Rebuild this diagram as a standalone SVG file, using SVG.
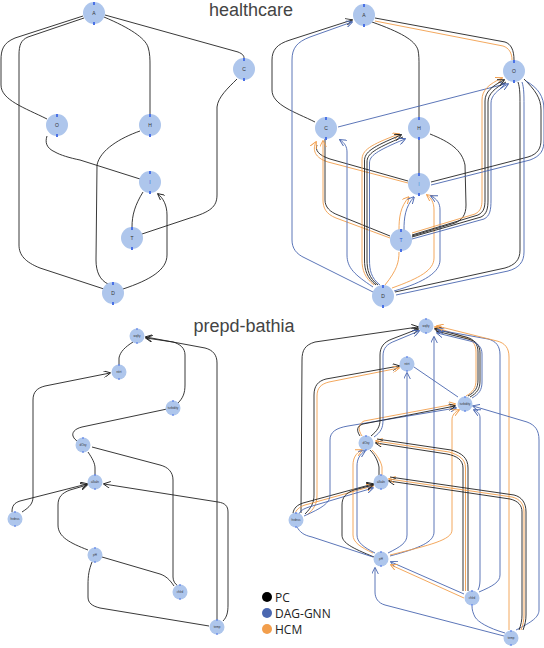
<svg xmlns="http://www.w3.org/2000/svg" width="544" height="648" viewBox="0 0 544 648">
<style>
.pc{fill:none;stroke:#222;stroke-width:0.9}
.dg{fill:none;stroke:#4a67b0;stroke-width:0.9}
.hc{fill:none;stroke:#f29e4c;stroke-width:0.9}
.pcA{marker-end:url(#aPC)}
.dgA{marker-end:url(#aDG)}
.hcA{marker-end:url(#aHC)}
.nd{fill:#aec6ec}
.pt{fill:#4b72e6}
.lb{font-family:"Liberation Sans",Arial,sans-serif;font-size:5px;fill:#333;text-anchor:middle}
.lbs{font-family:"Liberation Sans",Arial,sans-serif;font-size:3px;fill:#333;text-anchor:middle}
.ttl{font-family:"Liberation Sans",Arial,sans-serif;font-size:18px;fill:#444;text-anchor:middle}
.lg{font-family:"Open Sans","Liberation Sans",sans-serif;font-size:12px;fill:#222}
</style>
<defs>
<marker id="aPC" viewBox="0 0 10 10" refX="9" refY="5" markerWidth="7" markerHeight="7" markerUnits="userSpaceOnUse" orient="auto"><path d="M0,0 L10,5 L0,10" fill="none" stroke="#222" stroke-width="1.3"/></marker>
<marker id="aDG" viewBox="0 0 10 10" refX="9" refY="5" markerWidth="7" markerHeight="7" markerUnits="userSpaceOnUse" orient="auto"><path d="M0,0 L10,5 L0,10" fill="none" stroke="#4a67b0" stroke-width="1.3"/></marker>
<marker id="aHC" viewBox="0 0 10 10" refX="9" refY="5" markerWidth="7" markerHeight="7" markerUnits="userSpaceOnUse" orient="auto"><path d="M0,0 L10,5 L0,10" fill="none" stroke="#f29e4c" stroke-width="1.3"/></marker>
</defs>
<rect width="544" height="648" fill="#fff"/>
<text class="ttl" x="251" y="16">healthcare</text>
<text class="ttl" x="244" y="332">prepd-bathia</text>

<g id="connectors">
<!-- top-left healthcare PC -->
<path class="pc" d="M83,16 L15,38 C3,43 1,50 1,60 L1,85 C1,100 25,108 47,119"/>
<path class="pc" d="M84,18 L28,37 C21,40 19,45 19,55 L19,245 C19,255 25,262 40,268 L104,289"/>
<path class="pc" d="M104,17 C130,28 145,38 148,47 C150,53 150,60 150,65 L150,114"/>
<path class="pc" d="M105,15 L238,52 C243,54 244,56 244,58"/>
<path class="pc" d="M47,136 C45,142 46,148 55,152 C60,155 70,158 80,160 L140,179"/>
<path class="pc" d="M140,131 C120,138 100,150 97,165 L96,260 C96,272 100,280 108,284"/>
<path class="pc" d="M237,79 C228,88 218,97 217,107 L217,195 C217,207 210,212 190,218 L142,234"/>
<path class="pc" d="M143,192 C135,205 132,215 132,227"/>
<path class="pc pcA" d="M123,289 C150,280 167,270 167,255 L167,215 C167,205 163,198 158,194"/>

<!-- top-right healthcare combined -->
<path class="pc pcA" d="M315,122 C295,112 272,105 272,90 L272,60 C272,50 277,44 290,40 L352,20"/>
<path class="dg dgA" d="M373,292 L305,258 C296,254 292,248 292,240 L292,60 C292,48 297,42 310,37 L352,22"/>
<path class="pc" d="M375,18 L505,42 C511,44 514,50 514,60"/>
<path class="hc" d="M375,21 L503,46 C509,48 512,53 512,60"/>
<path class="pc" d="M372,22 C400,32 415,40 418,50 C419,55 419,60 419,65 L419,117"/>
<path class="dg dgA" d="M338,127 L505,84"/>
<path class="pc" d="M419,139 L419,173"/>
<path class="pc" d="M430,134 C450,142 462,150 465,165 L466,205 C466,215 462,220 455,223 L412,236"/>
<path class="pc" d="M408,181 L330,159 C318,155 315,150 317,145"/>
<path class="hc hcA" d="M408,183 L328,162 C315,158 312,150 316,142"/>
<path class="pc" d="M390,236 L338,215 C330,212 325,207 325,200 L325,139"/>
<path class="hc hcA" d="M390,238 L336,218 C326,214 323,208 323,200 L323,141"/>
<path class="dg dgA" d="M373,287 C355,275 347,268 347,255 L347,152 C347,147 345,143 340,140"/>
<path class="hc hcA" d="M374,285 C365,278 362,270 362,260 L362,160 C362,150 370,145 399,134"/>
<path class="pc pcA" d="M376,285 C367,278 364.5,270 364.5,260 L364.5,161 C364.5,152 372,147 401,135"/>
<path class="pc" d="M378,285 C369,278 367,270 367,260 L367,162 C367,154 374,149 403,137"/>
<path class="dg dgA" d="M380,285 C371,278 369.5,270 369.5,260 L369.5,163 C369.5,156 376,151 405,139"/>
<path class="hc hcA" d="M399,230 C399,218 400,207 409,197"/>
<path class="dg dgA" d="M404,230 C404,218 405,207 414,197"/>
<path class="hc hcA" d="M392,288 C420,278 434,270 434,258 L434,210 C434,202 431,198 427,195"/>
<path class="dg dgA" d="M394,291 C425,282 440,272 440,260 L440,210 C440,203 437,199 431,196"/>
<path class="hc" d="M399,252 C399,262 397,270 385,285"/>
<path class="hc hcA" d="M412,233 L475,214 C481,211 482,206 482,200 L482,100 C482,90 489,84 502,78"/>
<path class="pc pcA" d="M412,235 L478,215 C484,212 485,207 485,200 L485,101 C485,92 492,86 504,80"/>
<path class="pc" d="M412,237 L481,217 C487,214 488,208 488,200 L488,102 C488,94 495,88 506,82"/>
<path class="dg dgA" d="M412,239 L484,219 C490,216 491,210 491,200 L491,103 C491,96 497,90 508,84"/>
<path class="pc" d="M431,182 L528,157 C538,154 541,148 541,140 L541,110 C541,98 535,90 524,79"/>
<path class="dg" d="M431,185 L530,160 C541,156 544,150 544,140 L544,110 C544,96 538,88 526,81"/>
<path class="pc" d="M518,82 C520,88 520,95 520,105 L520,250 C520,260 515,265 505,268 L395,292"/>
<path class="dg" d="M522,82 C524,88 524,95 524,105 L524,252 C524,262 519,268 508,271 L396,295"/>

<!-- bottom-left prepd-bathia PC -->
<path class="pc" d="M133,342 C125,347 120,352 119,358 L119,366"/>
<path class="pc pcA" d="M178,403 C183,398 185,393 185,385 L185,355 C185,348 180,344 173,342 L146,338"/>
<path class="pc pcA" d="M217,620 L217,363 C217,355 213,350 205,348 L146,337"/>
<path class="pc pcA" d="M22,512 C30,507 33,503 33,497 L33,400 C33,392 37,388 45,386 L110,373"/>
<path class="pc" d="M167,409 L82,427 C74,429 72,433 73,436 C74,439 76,440 77,441"/>
<path class="pc" d="M88,452 C92,458 95,463 95,468 L95,475"/>
<path class="pc" d="M92,447 L160,465 C168,467 173,472 173,480 L173,577 C173,581 175,584 178,586"/>
<path class="pc pcA" d="M12,512 C12,506 14,503 20,501 L87,484"/>
<path class="pc pcA" d="M88,550 C70,543 58,537 58,525 L58,505 C58,497 62,493 70,490 L87,485"/>
<path class="pc pcA" d="M223,621 C227,617 228,612 228,605 L228,512 C228,506 225,503 218,502 L104,484"/>
<path class="pc" d="M102,557 L160,574 C166,576 170,580 174,586"/>
<path class="pc" d="M92,562 C89,570 88,575 88,585 L88,597 C88,603 92,606 100,608 L209,626"/>

<!-- bottom-right prepd-bathia combined -->
<path class="pc pcA" d="M301,513 L302,360 C302,350 305,345 315,342 L418,327"/>
<path class="pc pcA" d="M305,514 C311,508 314,503 314,495 L314,395 C314,386 318,381 326,379 L399,366"/>
<path class="hc hcA" d="M307,515 C314,509 317,504 317,495 L317,396 C317,388 321,384 329,382 L399,368"/>
<path class="pc pcA" d="M293,513 C294,508 297,505 303,503 L373,484"/>
<path class="hc hcA" d="M295,514 C296,510 299,507 305,505 L373,486"/>
<path class="dg dgA" d="M299,514 C300,511 303,509 309,507 L373,488"/>
<path class="dg dgA" d="M304,516 C322,508 330,503 330,495 L330,440 C330,432 336,428 348,426 L456,408"/>
<path class="hc hcA" d="M362,436 C358,430 358,424 364,421 L455,404"/>
<path class="pc pcA" d="M360,436 C356,430 357,426 363,424 L455,406"/>
<path class="pc pcA" d="M371,436 C377,431 380,427 380,420 L380,355 C380,347 384,342 392,339 L418,329"/>
<path class="dg dgA" d="M374,437 C381,432 383,428 383,420 L383,356 C383,348 387,344 395,341 L419,331"/>
<path class="dg" d="M414,367 L458,397"/>
<path class="hc hcA" d="M466,396 C473,392 476,388 476,380 L476,352 C476,344 472,339 464,337 L435,327"/>
<path class="pc pcA" d="M468,396 C475,392 478,388 478,380 L478,352 C478,344 474,339 466,337 L435,329"/>
<path class="pc" d="M470,397 C477,393 480,389 480,381 L480,353 C480,345 476,341 468,339 L436,331"/>
<path class="dg dgA" d="M472,398 C479,394 482,390 482,382 L482,354 C482,347 478,343 470,341 L437,333"/>
<path class="dg dgA" d="M388,553 C400,547 407,543 407,535 L407,373"/>
<path class="dg dgA" d="M390,556 C420,548 434,542 434,532 L434,337"/>
<path class="dg dgA" d="M479,592 C493,586 500,582 500,575 L500,355 C500,346 496,341 488,339 L438,330"/>
<path class="hc hcA" d="M509,630 L509,357 C509,348 505,343 497,341 L437,326"/>
<path class="dg dgA" d="M516,630 C532,622 539,617 539,610 L539,440 C539,430 535,425 527,422 L473,406"/>
<path class="dg dgA" d="M478,590 C480,586 480,582 480,578 L480,418 C480,414 478,412 474,410"/>
<path class="hc hcA" d="M390,555 C430,545 452,540 452,530 L452,420 C452,415 455,412 459,410"/>
<path class="pc pcA" d="M463,591 L463,468 C463,460 457,456 447,454 L376,443"/>
<path class="hc hcA" d="M465.5,591 L465.5,468 C465.5,459 459,455 449,452 L376,441"/>
<path class="pc" d="M468,591 L468,468 C468,458 462,453 451,450 L377,439"/>
<path class="pc pcA" d="M519,630 C521,625 522,620 522,615 L522,512 C522,505 518,501 510,499 L389,481"/>
<path class="hc hcA" d="M521,630 C523,625 524,620 524,615 L524,512 C524,504 520,499 512,497 L389,479"/>
<path class="pc" d="M523,630 C525,625 526,620 526,615 L526,512 C526,503 522,497 514,495 L390,477"/>
<path class="pc" d="M370,450 C376,456 378,462 379,467 L379,475"/>
<path class="hc" d="M372,450 C378,456 381,462 382,467 L382,475"/>
<path class="hc hcA" d="M373,553 C360,547 353,542 353,535 L353,465 C353,458 356,453 362,450"/>
<path class="dg dgA" d="M375,553 C363,547 357,542 357,535 L357,466 C357,459 360,454 365,451"/>
<path class="pc pcA" d="M374,557 C352,548 342,543 342,535 L342,505 C342,497 346,493 354,490 L373,485"/>
<path class="dg" d="M297,527 C300,532 303,535 312,537 L373,557"/>
<path class="dg dgA" d="M464,594 L391,562"/>
<path class="hc hcA" d="M464,598 L391,565"/>
<path class="dg dgA" d="M504,636 L385,605 C378,603 375,598 375,592 L375,568"/>
<path class="dg" d="M505,633 C488,628 478,622 475,617 C473,613 472,610 472,606"/>
</g>

<!-- healthcare left nodes -->
<g id="hl-A"><circle class="nd" cx="94" cy="13" r="11"/><rect class="pt" x="93" y="2" width="2" height="3"/><rect class="pt" x="93" y="22" width="2" height="3"/><text class="lb" x="94" y="15">A</text></g>
<g id="hl-C"><circle class="nd" cx="244" cy="69" r="11"/><rect class="pt" x="243" y="58" width="2" height="3"/><rect class="pt" x="243" y="78" width="2" height="3"/><text class="lb" x="244" y="71">C</text></g>
<g id="hl-O"><circle class="nd" cx="57" cy="125" r="11"/><rect class="pt" x="56" y="114" width="2" height="3"/><rect class="pt" x="56" y="134" width="2" height="3"/><text class="lb" x="57" y="127">O</text></g>
<g id="hl-H"><circle class="nd" cx="150" cy="125" r="11"/><rect class="pt" x="149" y="114" width="2" height="3"/><rect class="pt" x="149" y="134" width="2" height="3"/><text class="lb" x="150" y="127">H</text></g>
<g id="hl-I"><circle class="nd" cx="150" cy="182" r="11"/><rect class="pt" x="149" y="171" width="2" height="3"/><rect class="pt" x="149" y="191" width="2" height="3"/><text class="lb" x="150" y="184" style="fill:#2a5bd7">I</text></g>
<g id="hl-T"><circle class="nd" cx="132" cy="238" r="11"/><rect class="pt" x="131" y="227" width="2" height="3"/><rect class="pt" x="131" y="247" width="2" height="3"/><text class="lb" x="132" y="240">T</text></g>
<g id="hl-D"><circle class="nd" cx="113" cy="293" r="11"/><rect class="pt" x="112" y="282" width="2" height="3"/><rect class="pt" x="112" y="302" width="2" height="3"/><text class="lb" x="113" y="295">D</text></g>

<!-- healthcare right nodes -->
<g id="hr-A"><circle class="nd" cx="364" cy="15" r="11"/><rect class="pt" x="363" y="4" width="2" height="3"/><rect class="pt" x="363" y="24" width="2" height="3"/><text class="lb" x="364" y="17">A</text></g>
<g id="hr-O"><circle class="nd" cx="514" cy="71" r="11"/><rect class="pt" x="513" y="60" width="2" height="3"/><rect class="pt" x="513" y="80" width="2" height="3"/><text class="lb" x="514" y="73">O</text></g>
<g id="hr-C"><circle class="nd" cx="326" cy="128" r="11"/><rect class="pt" x="325" y="117" width="2" height="3"/><rect class="pt" x="325" y="137" width="2" height="3"/><text class="lb" x="326" y="130">C</text></g>
<g id="hr-H"><circle class="nd" cx="419" cy="128" r="11"/><rect class="pt" x="418" y="117" width="2" height="3"/><rect class="pt" x="418" y="137" width="2" height="3"/><text class="lb" x="419" y="130">H</text></g>
<g id="hr-I"><circle class="nd" cx="419" cy="184" r="11"/><rect class="pt" x="418" y="173" width="2" height="3"/><rect class="pt" x="418" y="193" width="2" height="3"/><text class="lb" x="419" y="186" style="fill:#3a8fd8">I</text></g>
<g id="hr-T"><circle class="nd" cx="401" cy="240" r="11"/><rect class="pt" x="400" y="229" width="2" height="3"/><rect class="pt" x="400" y="249" width="2" height="3"/><text class="lb" x="401" y="242" style="fill:#2a5bd7">T</text></g>
<g id="hr-D"><circle class="nd" cx="383" cy="296" r="11"/><rect class="pt" x="382" y="285" width="2" height="3"/><rect class="pt" x="382" y="305" width="2" height="3"/><text class="lb" x="383" y="298">D</text></g>

<!-- prepd-bathia left nodes -->
<g id="bl-1"><circle class="nd" cx="137" cy="336" r="7.5"/><rect class="pt" x="136.5" y="328" width="1" height="2"/><rect class="pt" x="136.5" y="342" width="1" height="2"/><text class="lbs" x="137" y="337">wqlty</text></g>
<g id="bl-2"><circle class="nd" cx="119" cy="372" r="7.5"/><rect class="pt" x="118.5" y="364" width="1" height="2"/><rect class="pt" x="118.5" y="378" width="1" height="2"/><text class="lbs" x="119" y="373">nitrt</text></g>
<g id="bl-3"><circle class="nd" cx="173" cy="408" r="7.5"/><rect class="pt" x="172.5" y="400" width="1" height="2"/><rect class="pt" x="172.5" y="414" width="1" height="2"/><text class="lbs" x="173" y="409">turbidity</text></g>
<g id="bl-4"><circle class="nd" cx="83" cy="445" r="7.5"/><rect class="pt" x="82.5" y="437" width="1" height="2"/><rect class="pt" x="82.5" y="451" width="1" height="2"/><text class="lbs" x="83" y="446">dOxy</text></g>
<g id="bl-5"><circle class="nd" cx="95" cy="482" r="7.5"/><rect class="pt" x="94.5" y="474" width="1" height="2"/><rect class="pt" x="94.5" y="488" width="1" height="2"/><text class="lbs" x="95" y="483">alkaln</text></g>
<g id="bl-6"><circle class="nd" cx="15" cy="519" r="7.5"/><rect class="pt" x="14.5" y="511" width="1" height="2"/><rect class="pt" x="14.5" y="525" width="1" height="2"/><text class="lbs" x="15" y="520">hrdnss</text></g>
<g id="bl-7"><circle class="nd" cx="95" cy="555" r="7.5"/><rect class="pt" x="94.5" y="547" width="1" height="2"/><rect class="pt" x="94.5" y="561" width="1" height="2"/><text class="lbs" x="95" y="556">pH</text></g>
<g id="bl-8"><circle class="nd" cx="180" cy="592" r="7.5"/><rect class="pt" x="179.5" y="584" width="1" height="2"/><rect class="pt" x="179.5" y="598" width="1" height="2"/><text class="lbs" x="180" y="593">chlrd</text></g>
<g id="bl-9"><circle class="nd" cx="217" cy="627" r="7.5"/><rect class="pt" x="216.5" y="619" width="1" height="2"/><rect class="pt" x="216.5" y="633" width="1" height="2"/><text class="lbs" x="217" y="628">temp</text></g>

<!-- prepd-bathia right nodes -->
<g id="br-1"><circle class="nd" cx="426" cy="326" r="7.5"/><rect class="pt" x="425.5" y="318" width="1" height="2"/><rect class="pt" x="425.5" y="332" width="1" height="2"/><text class="lbs" x="426" y="327">wqlty</text></g>
<g id="br-2"><circle class="nd" cx="407" cy="364" r="7.5"/><rect class="pt" x="406.5" y="356" width="1" height="2"/><rect class="pt" x="406.5" y="370" width="1" height="2"/><text class="lbs" x="407" y="365">nitrt</text></g>
<g id="br-3"><circle class="nd" cx="465" cy="404" r="7.5"/><rect class="pt" x="464.5" y="396" width="1" height="2"/><rect class="pt" x="464.5" y="410" width="1" height="2"/><text class="lbs" x="465" y="405">turbidity</text></g>
<g id="br-4"><circle class="nd" cx="366" cy="443" r="7.5"/><rect class="pt" x="365.5" y="435" width="1" height="2"/><rect class="pt" x="365.5" y="449" width="1" height="2"/><text class="lbs" x="366" y="444">dOxy</text></g>
<g id="br-5"><circle class="nd" cx="381" cy="482" r="7.5"/><rect class="pt" x="380.5" y="474" width="1" height="2"/><rect class="pt" x="380.5" y="488" width="1" height="2"/><text class="lbs" x="381" y="483">alkaln</text></g>
<g id="br-6"><circle class="nd" cx="296" cy="520" r="7.5"/><rect class="pt" x="295.5" y="512" width="1" height="2"/><rect class="pt" x="295.5" y="526" width="1" height="2"/><text class="lbs" x="296" y="521">hrdnss</text></g>
<g id="br-7"><circle class="nd" cx="381" cy="559" r="7.5"/><rect class="pt" x="380.5" y="551" width="1" height="2"/><rect class="pt" x="380.5" y="565" width="1" height="2"/><text class="lbs" x="381" y="560">pH</text></g>
<g id="br-8"><circle class="nd" cx="472" cy="598" r="7.5"/><rect class="pt" x="471.5" y="590" width="1" height="2"/><rect class="pt" x="471.5" y="604" width="1" height="2"/><text class="lbs" x="472" y="599">chlrd</text></g>
<g id="br-9"><circle class="nd" cx="511" cy="638" r="7.5"/><rect class="pt" x="510.5" y="630" width="1" height="2"/><rect class="pt" x="510.5" y="644" width="1" height="2"/><text class="lbs" x="511" y="639">temp</text></g>

<g id="legend">
<circle cx="267" cy="597" r="5" fill="#000"/>
<circle cx="267" cy="613" r="5" fill="#4a67b0"/>
<circle cx="267" cy="629" r="5" fill="#f29e4c"/>
<text class="lg" x="275" y="602">PC</text>
<text class="lg" x="275" y="618">DAG-GNN</text>
<text class="lg" x="275" y="634">HCM</text>
</g>
</svg>
